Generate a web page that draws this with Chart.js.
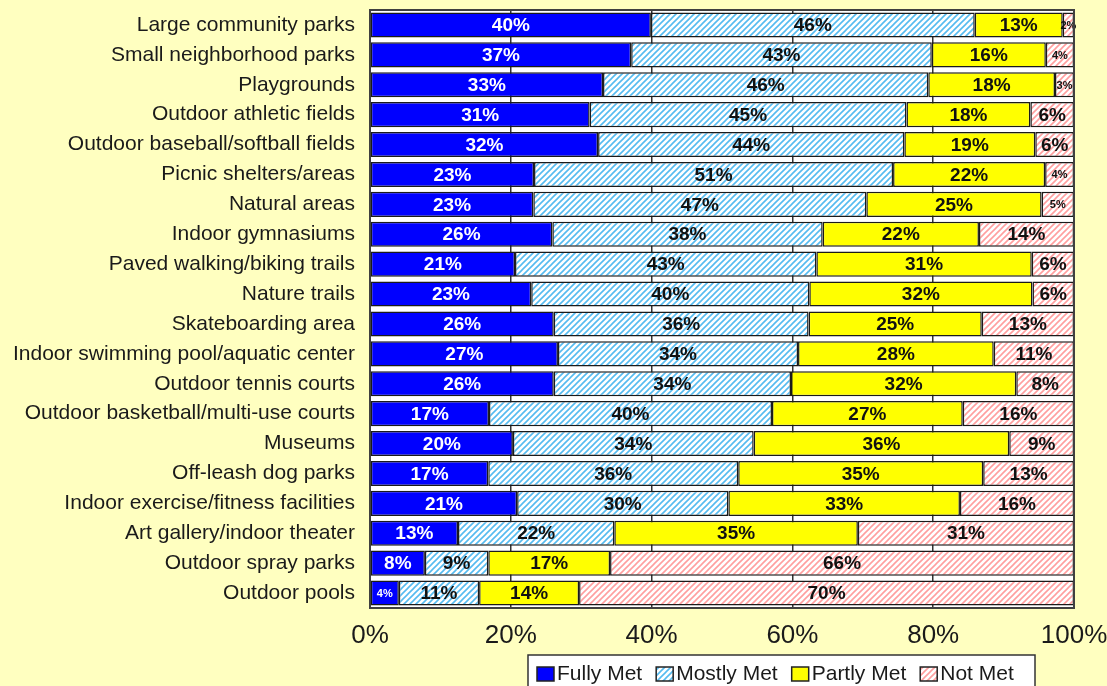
<!DOCTYPE html>
<html>
<head>
<meta charset="utf-8">
<script src="https://cdn.jsdelivr.net/npm/chart.js@4.4.1/dist/chart.umd.min.js"></script>
<style>
  html, body { margin: 0; padding: 0; background: #FFFFC0; }
  #wrap { width: 1107px; height: 686px; position: relative; }
</style>
</head>
<body>
<div id="wrap"><canvas id="c" width="1107" height="686"></canvas></div>
<script>
const categories = [
  "Large community parks",
  "Small neighborhood parks",
  "Playgrounds",
  "Outdoor athletic fields",
  "Outdoor baseball/softball fields",
  "Picnic shelters/areas",
  "Natural areas",
  "Indoor gymnasiums",
  "Paved walking/biking trails",
  "Nature trails",
  "Skateboarding area",
  "Indoor swimming pool/aquatic center",
  "Outdoor tennis courts",
  "Outdoor basketball/multi-use courts",
  "Museums",
  "Off-leash dog parks",
  "Indoor exercise/fitness facilities",
  "Art gallery/indoor theater",
  "Outdoor spray parks",
  "Outdoor pools"
];
const seriesNames = ["Fully Met", "Mostly Met", "Partly Met", "Not Met"];
const fullyMet  = [39.9, 37.1, 33.1, 31.2, 32.4, 23.3, 23.2, 25.9, 20.6, 22.9, 26.1, 26.7, 26.1, 16.9, 20.3, 16.8, 20.9, 12.5, 7.8, 4.1];
const mostlyMet = [46.0, 42.7, 46.2, 45.0, 43.5, 51.0, 47.3, 38.4, 42.8, 39.5, 36.2, 34.1, 33.7, 40.2, 34.2, 35.5, 30.0, 22.2, 9.0, 11.4];
const partlyMet = [12.5, 16.2, 18.0, 17.6, 18.6, 21.6, 24.9, 22.2, 30.6, 31.7, 24.6, 27.8, 32.0, 27.1, 36.3, 34.8, 32.9, 34.6, 17.3, 14.2];
const notMet    = [1.6, 4.0, 2.7, 6.2, 5.5, 4.1, 4.6, 13.5, 6.0, 5.9, 13.1, 11.4, 8.2, 15.8, 9.2, 12.9, 16.2, 30.7, 65.9, 70.3];
const xTicks = [0, 20, 40, 60, 80, 100];

function hatch(color) {
  const s = 6;
  const c = document.createElement('canvas');
  c.width = s; c.height = s;
  const g = c.getContext('2d');
  g.fillStyle = '#ffffff';
  g.fillRect(0, 0, s, s);
  g.strokeStyle = color;
  g.lineWidth = 1.6;
  g.beginPath();
  g.moveTo(-1, s + 1); g.lineTo(s + 1, -1);
  g.moveTo(-1, 1); g.lineTo(1, -1);
  g.moveTo(s - 1, s + 1); g.lineTo(s + 1, s - 1);
  g.stroke();
  return g.createPattern(c, 'repeat');
}
const blueHatch = hatch('#55BBF0');
const pinkHatch = hatch('#FF9F9F');
const fills = ['#0000FF', blueHatch, '#FFFF00', pinkHatch];
const values = [fullyMet, mostlyMet, partlyMet, notMet];
const FONT = '"Liberation Sans", Arial, sans-serif';

const bgPlugin = {
  id: 'bg',
  beforeDraw(chart) {
    const { ctx, chartArea: a } = chart;
    ctx.save();
    ctx.fillStyle = '#FFFFC0';
    ctx.fillRect(0, 0, chart.width, chart.height);
    ctx.fillStyle = '#ffffff';
    ctx.fillRect(a.left, a.top, a.right - a.left, a.bottom - a.top);
    ctx.restore();
  },
  afterDatasetsDraw(chart) {
    const { ctx, chartArea: a } = chart;
    ctx.save();
    chart.data.datasets.forEach((ds, di) => {
      const meta = chart.getDatasetMeta(di);
      meta.data.forEach((el, i) => {
        const v = ds.data[i];
        const r = Math.round(v);
        const cx = (el.x + el.base) / 2;
        const small = r < 6;
        ctx.font = 'bold ' + (small ? 11 : 19) + 'px ' + FONT;
        ctx.textAlign = 'center';
        ctx.textBaseline = 'middle';
        ctx.fillStyle = di === 0 ? '#ffffff' : '#111111';
        ctx.fillText(r + '%', cx, el.y + 1);
      });
    });
    ctx.strokeStyle = '#404040';
    ctx.lineWidth = 2;
    ctx.strokeRect(a.left, a.top, a.right - a.left, a.bottom - a.top);
    ctx.restore();
  },
  afterDraw(chart) {
    const { ctx } = chart;
    ctx.save();
    const boxL = 528, boxT = 655, boxR = 1035;
    ctx.fillStyle = '#ffffff';
    ctx.fillRect(boxL, boxT, boxR - boxL, 40);
    ctx.strokeStyle = '#333333';
    ctx.lineWidth = 1.5;
    ctx.strokeRect(boxL, boxT, boxR - boxL, 40);
    ctx.font = '21px ' + FONT;
    ctx.textBaseline = 'middle';
    ctx.textAlign = 'left';
    let x = 537;
    const cy = 674;
    chart.data.datasets.forEach((ds) => {
      ctx.fillStyle = ds.backgroundColor;
      ctx.fillRect(x, cy - 7, 17, 14);
      ctx.strokeStyle = '#222222';
      ctx.lineWidth = 1.5;
      ctx.strokeRect(x, cy - 7, 17, 14);
      ctx.fillStyle = '#1a1a1a';
      ctx.fillText(ds.label, x + 20, cy);
      x += 20 + ctx.measureText(ds.label).width + 14;
    });
    ctx.restore();
  }
};

new Chart(document.getElementById('c'), {
  type: 'bar',
  data: {
    labels: categories,
    datasets: seriesNames.map((n, i) => ({
      label: n,
      data: values[i],
      backgroundColor: fills[i],
      borderColor: '#1a1a1a',
      borderWidth: 1.5,
      borderSkipped: false,
      barPercentage: 0.84,
      categoryPercentage: 1.0
    }))
  },
  options: {
    indexAxis: 'y',
    responsive: false,
    animation: false,
    devicePixelRatio: 1,
    layout: { padding: { top: 10, right: 33, left: 0, bottom: 0 } },
    plugins: { legend: { display: false }, tooltip: { enabled: false } },
    scales: {
      x: {
        stacked: true,
        min: 0, max: 100,
        afterBuildTicks(scale) { scale.ticks = xTicks.map(v => ({ value: v })); },
        afterFit(scale) { scale.height = 78; scale.paddingLeft = 0; scale.paddingRight = 0; },
        grid: { color: '#333333', lineWidth: 1.5, drawTicks: false },
        border: { display: false },
        ticks: {
          padding: 12,
          color: '#1a1a1a',
          font: { size: 26, family: FONT },
          callback: v => v + '%'
        }
      },
      y: {
        stacked: true,
        afterFit(scale) { scale.width = 370; scale.paddingTop = 0; scale.paddingBottom = 0; },
        grid: { display: false, drawTicks: false },
        border: { display: false },
        ticks: {
          padding: 15,
          autoSkip: false,
          color: '#1a1a1a',
          font: { size: 21, family: FONT }
        }
      }
    }
  },
  plugins: [bgPlugin]
});
</script>
</body>
</html>
